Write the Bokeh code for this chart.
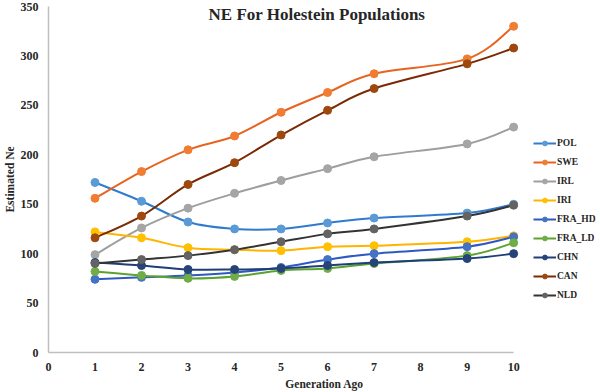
from bokeh.plotting import figure
from bokeh.models import (Range1d, FixedTicker, Legend, LegendItem, Label,
                          ColumnDataSource)
from bokeh.embed import file_html
from bokeh.resources import INLINE

# Generations back in time (no estimate at generation 8)
generations = [1, 2, 3, 4, 5, 6, 7, 9, 10]

POL = [172, 153, 132, 125, 125, 131, 136, 141, 150]
SWE = [156, 183, 205, 219, 243, 263, 282, 297, 330]
IRL = [99, 126, 146, 161, 174, 186, 198, 211, 228]
IRI = [122, 116, 106, 104, 103, 107, 108, 112, 118]
FRA_HD = [74, 76, 78, 81, 86, 94, 100, 107, 117]
FRA_LD = [82, 78, 75, 77, 83, 85, 90, 98, 111]
CHN = [91, 88, 84, 84, 85, 88, 91, 95, 100]
CAN = [116, 138, 170, 192, 220, 245, 267, 292, 308]
NLD = [90, 94, 98, 104, 112, 120, 125, 138, 149]

series_names = ["POL", "SWE", "IRL", "IRI", "FRA_HD", "FRA_LD", "CHN", "CAN", "NLD"]
series_values = [POL, SWE, IRL, IRI, FRA_HD, FRA_LD, CHN, CAN, NLD]

line_colors = ["#2F7BD0", "#E8641E", "#9E9E9E", "#FFB400", "#2E58C2",
               "#5BA22E", "#1E3E78", "#7A2A04", "#333333"]
marker_colors = ["#5B9BD5", "#F07D32", "#A5A5A5", "#FFC000", "#4472C4",
                 "#70AD47", "#264478", "#9E480E", "#636363"]

SERIF = "Liberation Serif"

# The frame runs to the right edge so the legend can sit beside the data;
# the x axis itself is bounded to 0..10.
p = figure(width=600, height=392, output_backend="svg", toolbar_location=None,
           x_range=Range1d(0, 11.867), y_range=Range1d(0, 350),
           min_border_left=47, min_border_right=0, min_border_top=6,
           min_border_bottom=38)
p.outline_line_color = None
p.xgrid.grid_line_color = None
p.ygrid.grid_line_color = None
p.background_fill_color = "white"
p.border_fill_color = "white"

p.xaxis.ticker = FixedTicker(ticks=list(range(0, 11)))
p.xaxis.bounds = (0, 10)
p.yaxis.ticker = FixedTicker(ticks=list(range(0, 351, 50)))
for ax in (p.xaxis, p.yaxis):
    ax.axis_line_color = "#BFBFBF"
    ax.axis_line_width = 1.5
    ax.major_tick_line_color = None
    ax.minor_tick_line_color = None
    ax.major_tick_out = 0
    ax.major_tick_in = 0
    ax.minor_tick_out = 0
    ax.minor_tick_in = 0
    ax.major_label_text_font = SERIF
    ax.major_label_text_font_style = "bold"
    ax.major_label_text_font_size = "12px"
    ax.major_label_text_color = "#262626"
    ax.axis_label_text_font = SERIF
    ax.axis_label_text_font_style = "bold"
    ax.axis_label_text_font_size = "11.5px"
    ax.axis_label_text_color = "#262626"
p.xaxis.axis_label = "Generation Ago"
p.yaxis.axis_label = "Estimated Ne"
p.xaxis.major_label_standoff = 10
p.yaxis.major_label_standoff = 10
p.xaxis.axis_label_standoff = 4
p.yaxis.axis_label_standoff = 2


def smooth_segments(xs, ys):
    """Cubic Bezier pieces through every point (Catmull-Rom style tangents)."""
    n = len(xs)
    x0, y0, x1, y1, cx0, cy0, cx1, cy1 = ([] for _ in range(8))
    for i in range(n - 1):
        xa, ya = xs[max(i - 1, 0)], ys[max(i - 1, 0)]
        xb, yb = xs[i], ys[i]
        xc, yc = xs[i + 1], ys[i + 1]
        xd, yd = xs[min(i + 2, n - 1)], ys[min(i + 2, n - 1)]
        x0.append(xb); y0.append(yb); x1.append(xc); y1.append(yc)
        cx0.append(xb + (xc - xa) / 6.0); cy0.append(yb + (yc - ya) / 6.0)
        cx1.append(xc - (xd - xb) / 6.0); cy1.append(yc - (yd - yb) / 6.0)
    return dict(x0=x0, y0=y0, x1=x1, y1=y1, cx0=cx0, cy0=cy0, cx1=cx1, cy1=cy1)


items = []
for name, vals, lc, mc in zip(series_names, series_values, line_colors, marker_colors):
    seg = ColumnDataSource(smooth_segments(generations, vals))
    r_line = p.bezier(x0="x0", y0="y0", x1="x1", y1="y1", cx0="cx0", cy0="cy0",
                      cx1="cx1", cy1="cy1", source=seg, line_color=lc, line_width=2)
    r_pts = p.scatter(generations, vals, size=8, fill_color=mc, line_color=mc)
    items.append(LegendItem(label=name, renderers=[r_line, r_pts]))

legend = Legend(items=items, location=(485, 51), padding=0, margin=0,
                spacing=7, glyph_width=23, glyph_height=12, label_height=12,
                label_standoff=1, border_line_color=None,
                background_fill_alpha=0,
                label_text_font=SERIF, label_text_font_style="bold",
                label_text_font_size="9.5px", label_text_color="#262626")
p.add_layout(legend)

title = Label(x=5.77, y=342, text="NE For Holestein Populations",
              text_font=SERIF, text_font_style="bold", text_font_size="17px",
              text_color="#262626", text_align="center", text_baseline="middle")
p.add_layout(title)

open("out.html", "w").write(file_html(p, INLINE))
